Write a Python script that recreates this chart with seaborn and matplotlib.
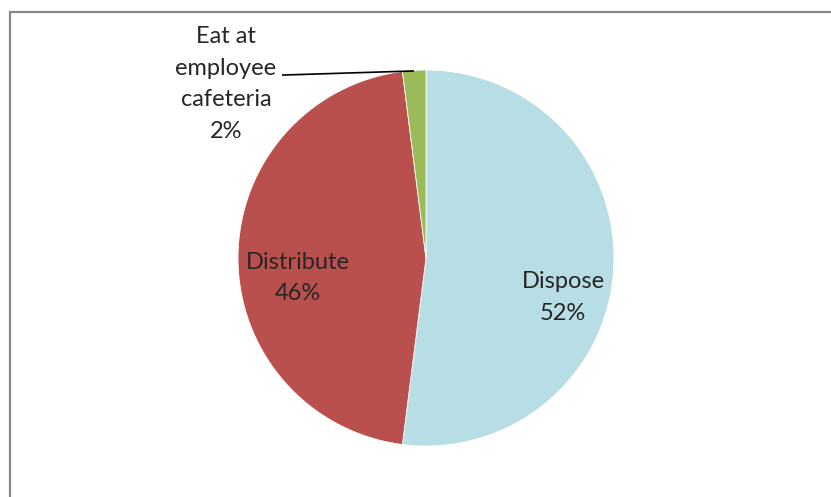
import matplotlib
matplotlib.use("Agg")
import matplotlib.pyplot as plt
from matplotlib.patches import Rectangle
import seaborn as sns

# Share of surplus food by how it is handled
categories = ["Dispose", "Distribute", "Eat at\nemployee\ncafeteria"]
shares = [52, 46, 2]
colors = ["#B7DDE5", "#B9504D", "#9BBB59"]

sns.set_theme(style="white")
plt.rcParams["font.family"] = ["Lato", "DejaVu Sans"]

W, H = 831, 497
fig = plt.figure(figsize=(W / 100, H / 100), dpi=100)
ax = fig.add_axes([0, 0, 1, 1])

cx, cy, r = 426, H - 258, 188
wedges, _ = ax.pie(
    shares, colors=colors, startangle=90, counterclock=False,
    center=(cx, cy), radius=r, frame=False,
    wedgeprops=dict(edgecolor="white", linewidth=0.6),
)
ax.set_xlim(0, W)
ax.set_ylim(0, H)
ax.set_aspect("equal")
ax.axis("off")

fs = 17
tc = "#262626"
ls = 1.62
# in-slice labels
ax.text(cx + 0.729 * r, cy - 0.210 * r, f"{categories[0]}\n{shares[0]}%",
        ha="center", va="center", fontsize=fs, color=tc, linespacing=ls)
ax.text(cx - 0.681 * r, cy - 0.106 * r, f"{categories[1]}\n{shares[1]}%",
        ha="center", va="center", fontsize=fs, color=tc, linespacing=ls)
# outside label with leader line
ax.text(cx - 1.064 * r, cy + 0.926 * r, f"{categories[2]}\n{shares[2]}%",
        ha="center", va="center", fontsize=fs, color=tc, linespacing=ls)
ax.plot([cx - 0.766 * r, cx - 0.064 * r], [cy + 0.973 * r, cy + 0.995 * r],
        color="black", linewidth=1.2, solid_capstyle="butt")

# chart border
ax.add_patch(Rectangle((9.5, -20), 900, H - 11.5 + 20, fill=False,
                       edgecolor="#898989", linewidth=1.6, clip_on=False))

fig.savefig("out.png", dpi=100)
